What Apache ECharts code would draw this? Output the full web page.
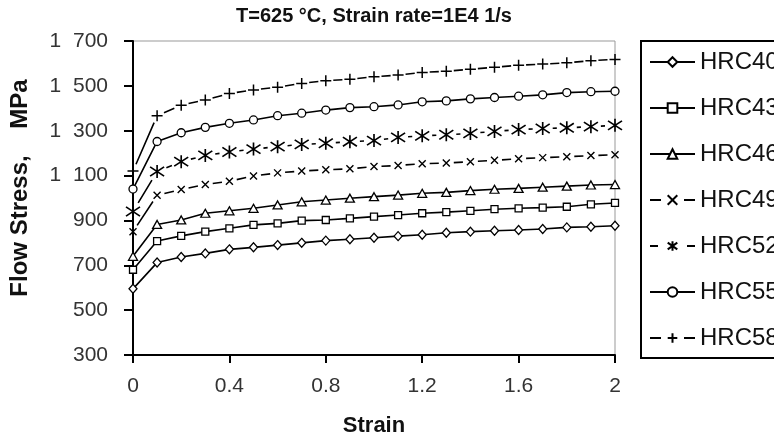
<!DOCTYPE html>
<html>
<head>
<meta charset="utf-8">
<script src="https://cdn.jsdelivr.net/npm/echarts@6/dist/echarts.min.js"></script>
<style>html,body{margin:0;padding:0;background:#fff;}#c{width:774px;height:442px;}</style>
</head>
<body>
<div id="c"></div>
<script>
// ---- data ----
const strain = [0,0.1,0.2,0.3,0.4,0.5,0.6,0.7,0.8,0.9,1.0,1.1,1.2,1.3,1.4,1.5,1.6,1.7,1.8,1.9,2.0];
const hrc40 = [595,712,737,753,771,780,790,800,810,816,823,830,836,845,850,854,857,862,869,872,876];
const hrc43 = [680,808,831,850,865,880,887,899,902,909,917,924,932,937,943,950,954,957,961,972,978];
const hrc46 = [740,882,902,932,943,954,969,983,991,999,1006,1013,1021,1025,1033,1039,1043,1048,1053,1058,1060];
const hrc49 = [850,1012,1038,1060,1075,1098,1112,1120,1126,1130,1140,1145,1153,1156,1162,1168,1175,1180,1184,1189,1193];
const hrc52 = [940,1118,1162,1190,1205,1218,1229,1239,1244,1251,1256,1270,1277,1282,1288,1297,1305,1310,1313,1318,1324];
const hrc55 = [1040,1252,1291,1315,1333,1348,1367,1378,1392,1403,1407,1415,1429,1433,1442,1448,1454,1460,1470,1474,1476];
const hrc58 = [1120,1367,1414,1437,1466,1482,1494,1511,1523,1529,1541,1548,1560,1565,1574,1583,1592,1597,1603,1612,1618];
const seriesNames = ['HRC40','HRC43','HRC46','HRC49','HRC52','HRC55','HRC58'];
const titleText = 'T=625 \u00B0C, Strain rate=1E4 1/s';
const xName = 'Strain';
const yName = '   Flow Stress,    MPa';

// ---- styles ----
const FONT = '"Liberation Sans", Arial, Helvetica, sans-serif';
const SYM_X = 'path://M0,0L10,10M10,0L0,10';
const SYM_PLUS = 'path://M0,5L10,5M5,0L5,10';
const SYM_AST = 'path://M5,0L5,10M0,1.5L10,8.5M10,1.5L0,8.5';
const styles = [
  {symbol:'diamond', size:[8,9], bw:1.3, clear:null},
  {symbol:'rect', size:7, bw:1.3, clear:null},
  {symbol:'triangle', size:[9,8], bw:1.3, clear:null},
  {symbol:SYM_X, size:7, bw:1.4, clear:7.5, legendDash:[11,23,11]},
  {symbol:SYM_AST, size:[14,13], bw:1.6, clear:10, legendDash:[8,29,8]},
  {symbol:'circle', size:8, bw:1.3, clear:null},
  {symbol:SYM_PLUS, size:[11,11], bw:1.5, clear:7.5, legendDash:[11,23,11]}
];
const allData = [hrc40,hrc43,hrc46,hrc49,hrc52,hrc55,hrc58];

function buildSeries(dashes){
  return allData.map((vals,i)=>({
    name: seriesNames[i],
    type:'line',
    data: strain.map((s,j)=>[s, vals[j]]),
    symbol: styles[i].symbol,
    symbolSize: styles[i].size,
    showAllSymbol: true,
    silent: true,
    z: 10 - i,
    lineStyle:{color:'#000', width:1.6, type: dashes && dashes[i] ? dashes[i] : 'solid'},
    itemStyle:{color:'#fff', borderColor:'#000', borderWidth:styles[i].bw},
    emphasis:{disabled:true}
  }));
}

const FIG = '\u2007';
const chart = echarts.init(document.getElementById('c'), null, {renderer:'canvas'});
const option = {
  animation:false,
  backgroundColor:'#fff',
  title:{
    text:titleText, left:374, top:6, textAlign:'center', padding:0,
    textStyle:{fontFamily:FONT, fontSize:20, fontWeight:'bold', color:'#111'}
  },
  grid:{left:133, right:159, top:41, bottom:87, show:true, borderColor:'#999', borderWidth:1, backgroundColor:'transparent'},
  legend:{
    orient:'vertical', left:641, top:41,
    itemWidth:45, itemHeight:12, itemGap:20,
    padding:[8,40,7,8],
    borderColor:'#000', borderWidth:2,
    backgroundColor:'#fff',
    selectedMode:false,
    textStyle:{fontFamily:FONT, fontSize:24, color:'#111', lineHeight:26},
    data: seriesNames.map((n,i)=> styles[i].legendDash ? {name:n, lineStyle:{type:styles[i].legendDash}} : {name:n})
  },
  xAxis:{
    type:'value', min:0, max:2, interval:0.4,
    name:xName, nameLocation:'middle', nameGap:60,
    nameTextStyle:{fontFamily:FONT, fontSize:22, fontWeight:'bold', color:'#111'},
    axisLine:{onZero:false, lineStyle:{color:'#000', width:2}},
    axisTick:{show:true, length:8, inside:false, lineStyle:{color:'#000', width:2}},
    axisLabel:{fontFamily:FONT, fontSize:21, color:'#333', margin:21,
      formatter:(v)=> String(+v.toFixed(1))},
    splitLine:{show:false}
  },
  yAxis:{
    type:'value', min:300, max:1700, interval:200,
    name:yName, nameLocation:'middle', nameGap:101, nameRotate:90,
    nameTextStyle:{fontFamily:FONT, fontSize:24, fontWeight:'bold', color:'#111'},
    axisLine:{onZero:false, lineStyle:{color:'#000', width:2}},
    axisTick:{show:true, length:9, inside:false, lineStyle:{color:'#000', width:2}},
    axisLabel:{fontFamily:FONT, fontSize:21, color:'#333', margin:25,
      formatter:(v)=> v >= 1000 ? Math.floor(v/1000) + FIG + String(v%1000).padStart(3,'0') : String(v)},
    splitLine:{show:false}
  },
  series: buildSeries(null)
};
chart.setOption(option);

// dash patterns so that line segments break around the cross-type markers
function dashFor(vals, clear){
  const pts = strain.map((s,j)=>chart.convertToPixel({gridIndex:0}, [s, vals[j]]));
  const segs = [];
  for (let k=0;k<pts.length-1;k++){
    const L = Math.hypot(pts[k+1][0]-pts[k][0], pts[k+1][1]-pts[k][1]);
    const d = Math.max(L - 2*clear, 2.5);
    segs.push({d:d, g:(L-d)/2});
  }
  const arr = [0, segs[0].g];
  for (let k=0;k<segs.length;k++){
    arr.push(segs[k].d, k<segs.length-1 ? segs[k].g + segs[k+1].g : segs[k].g);
  }
  return arr;
}
const dashes = allData.map((vals,i)=> styles[i].clear ? dashFor(vals, styles[i].clear) : null);
chart.setOption({series: buildSeries(dashes)});
</script>
</body>
</html>
